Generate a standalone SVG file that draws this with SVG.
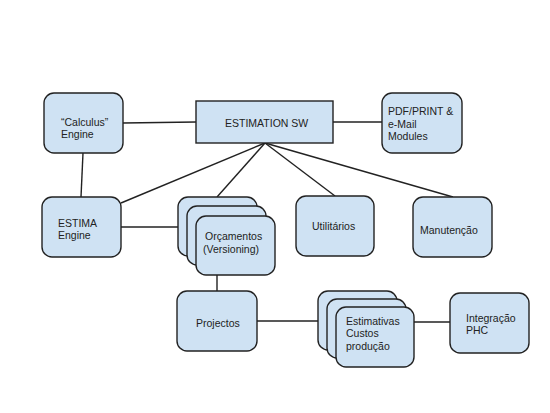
<svg xmlns="http://www.w3.org/2000/svg" width="550" height="413" viewBox="0 0 550 413">
<style>
.n{fill:#cfe2f3;stroke:#222;stroke-width:1.4}
.c{stroke:#222;stroke-width:1.4;fill:none}
text{font-family:"Liberation Sans",Arial,sans-serif;font-size:10.5px;fill:#222}
</style>
<rect width="550" height="413" fill="#fff"/>
<g id="connectors">
<line class="c" x1="123" y1="123" x2="196" y2="122"/>
<line class="c" x1="333" y1="122" x2="382" y2="122"/>
<line class="c" x1="83" y1="153" x2="81" y2="197"/>
<line class="c" x1="265" y1="143" x2="121" y2="203"/>
<line class="c" x1="265" y1="143" x2="217" y2="197"/>
<line class="c" x1="265" y1="143" x2="335" y2="196"/>
<line class="c" x1="265" y1="143" x2="453" y2="197"/>
<line class="c" x1="121" y1="227" x2="178" y2="227"/>
<line class="c" x1="217" y1="275" x2="217" y2="291"/>
<line class="c" x1="257" y1="321" x2="318" y2="321"/>
<line class="c" x1="414" y1="322" x2="450" y2="322"/>
</g>
<g id="calculus">
<rect class="n" x="44" y="93" width="79" height="60" rx="10"/>
<text x="61" y="126">“Calculus”</text>
<text x="61" y="138">Engine</text>
</g>
<g id="estimation">
<rect class="n" x="196" y="101" width="137" height="42"/>
<text x="225" y="127">ESTIMATION SW</text>
</g>
<g id="pdf">
<rect class="n" x="382" y="93" width="80" height="60" rx="10"/>
<text x="388" y="115">PDF/PRINT &amp;</text>
<text x="388" y="128">e-Mail</text>
<text x="388" y="140">Modules</text>
</g>
<g id="estima">
<rect class="n" x="42" y="197" width="79" height="60" rx="10"/>
<text x="58" y="227">ESTIMA</text>
<text x="58" y="239">Engine</text>
</g>
<g id="orcamentos">
<rect class="n" x="178" y="197" width="79" height="59" rx="10"/>
<rect class="n" x="187" y="206" width="79" height="59" rx="10"/>
<rect class="n" x="196" y="216" width="79" height="59" rx="10"/>
<text x="205" y="240">Orçamentos</text>
<text x="203" y="253">(Versioning)</text>
</g>
<g id="utilitarios">
<rect class="n" x="296" y="196" width="78" height="60" rx="10"/>
<text x="312" y="230">Utilitários</text>
</g>
<g id="manutencao">
<rect class="n" x="413" y="197" width="79" height="60" rx="10"/>
<text x="420" y="234">Manutenção</text>
</g>
<g id="projectos">
<rect class="n" x="177" y="291" width="80" height="60" rx="10"/>
<text x="196" y="327">Projectos</text>
</g>
<g id="estimativas">
<rect class="n" x="318" y="291" width="79" height="59" rx="10"/>
<rect class="n" x="327" y="299" width="79" height="59" rx="10"/>
<rect class="n" x="336" y="307" width="78" height="60" rx="10"/>
<text x="346" y="325">Estimativas</text>
<text x="346" y="337">Custos</text>
<text x="346" y="350">produção</text>
</g>
<g id="integracao">
<rect class="n" x="450" y="293" width="79" height="60" rx="10"/>
<text x="466" y="322">Integração</text>
<text x="466" y="334">PHC</text>
</g>
</svg>
